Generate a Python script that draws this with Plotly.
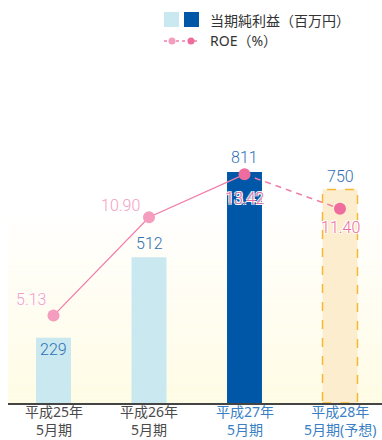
import plotly.graph_objects as go

# Fiscal periods, net income (million yen) and ROE (%)
periods = ["平成25年<br>5月期", "平成26年<br>5月期", "平成27年<br>5月期", "平成28年<br>5月期(予想)"]
net_income = [229, 512, 811, 750]
roe = [5.13, 10.90, 13.42, 11.40]
income_labels = ["229", "512", "811", "750"]
roe_labels = ["5.13", "10.90", "13.42", "11.40"]

W, H = 382, 440
M_L, M_R, M_T, M_B = 8, 0, 60, 37
plot_h = H - M_T - M_B
INCOME_MAX = plot_h / 0.2848
ROE_MAX = plot_h / 17.04

FONT = "Noto Sans, Noto Sans CJK JP, sans-serif"
NUM_FONT = "Roboto, Noto Sans, sans-serif"
CJK_FONT = "Noto Sans CJK JP, sans-serif"
LIGHT_BLUE = "#c9e8f0"
DARK_BLUE = "#0057a8"
FORECAST_FILL = "#fdedcf"
FORECAST_EDGE = "#f6b830"
PINK_LINE = "#f17fab"
PINK_LIGHT = "#f49dbf"
PINK_DARK = "#ee6c9e"
LABEL_BLUE = "#2f6fb5"

x = list(range(len(periods)))
fig = go.Figure()

# soft cream gradient behind the plot area
n_steps = 40
grad_top = 650
for i in range(n_steps):
    t = i / (n_steps - 1)
    r, g, b = 255, int(255 - 3 * (1 - t)), int(253 - 24 * (1 - t))
    fig.add_shape(type="rect", xref="paper", yref="y", layer="below",
                  x0=0, x1=1, y0=grad_top * i / n_steps, y1=grad_top * (i + 1) / n_steps,
                  fillcolor=f"rgb({r},{g},{b})", line_width=0)

fig.add_trace(go.Bar(x=x[:3], y=net_income[:3], marker_color=[LIGHT_BLUE, LIGHT_BLUE, DARK_BLUE],
                     marker_line_width=0, width=0.366, hoverinfo="skip"))
fig.add_trace(go.Bar(x=x[3:], y=net_income[3:], marker_color=FORECAST_FILL,
                     marker_line_width=0, width=0.366, hoverinfo="skip"))

# dashed outline of the forecast bar
bw = 0.366 / 2
fig.add_shape(type="rect", xref="x", yref="y", x0=x[3] - bw, x1=x[3] + bw,
              y0=0, y1=net_income[3], line=dict(color=FORECAST_EDGE, width=1.5, dash="dash"),
              fillcolor="rgba(0,0,0,0)")

# ROE line: actual results solid, forecast dashed
fig.add_trace(go.Scatter(x=x[:3], y=roe[:3], yaxis="y2", mode="lines",
                         line=dict(color=PINK_LINE, width=1.3), hoverinfo="skip"))
fig.add_trace(go.Scatter(x=x[2:], y=roe[2:], yaxis="y2", mode="lines",
                         line=dict(color=PINK_LINE, width=1.5, dash="6px,5px"), hoverinfo="skip"))
fig.add_trace(go.Scatter(x=x, y=roe, yaxis="y2", mode="markers",
                         marker=dict(size=12, color=[PINK_LIGHT, PINK_LIGHT, PINK_DARK, PINK_DARK]),
                         hoverinfo="skip"))

# income value labels
inc_shift = [-12, 14, 15, 13]
for xi, v, lab, s in zip(x, net_income, income_labels, inc_shift):
    fig.add_annotation(x=xi, y=v, yref="y", text=lab, showarrow=False, yshift=s,
                       yanchor="middle",
                       font=dict(family=NUM_FONT, size=16, weight=300, color=LABEL_BLUE))

# ROE value labels
roe_shift = [(-23, 16), (-29, 12), (0, -24), (0, -19)]
roe_colors = [PINK_LIGHT, PINK_LIGHT, PINK_DARK, PINK_DARK]
outline = "1px 1px 0 #fff, -1px -1px 0 #fff, 1px -1px 0 #fff, -1px 1px 0 #fff"
for xi, v, lab, (dx, dy), c in zip(x, roe, roe_labels, roe_shift, roe_colors):
    fig.add_annotation(x=xi, y=v, yref="y2", text=lab, showarrow=False, xshift=dx, yshift=dy,
                       yanchor="middle",
                       font=dict(family=NUM_FONT, size=16, weight=300, color=c, shadow=outline))

# category labels
cat_colors = ["#4a4a4a", "#4a4a4a", "#3a7fc4", "#3a7fc4"]
for xi, lab, c in zip(x, periods, cat_colors):
    fig.add_annotation(x=xi, y=-M_B / plot_h, yref="paper", text=lab, showarrow=False,
                       yanchor="bottom", borderpad=0,
                       font=dict(family=FONT, size=14, color=c))

# custom legend
def px_x(p):
    return (p - M_L) / (W - M_L - M_R)

def px_y(p):
    return (H - M_B - p) / plot_h

fig.add_shape(type="rect", xref="paper", yref="paper", x0=px_x(164), x1=px_x(179),
              y0=px_y(27), y1=px_y(12), fillcolor=LIGHT_BLUE, line_width=0)
fig.add_shape(type="rect", xref="paper", yref="paper", x0=px_x(184), x1=px_x(199),
              y0=px_y(27), y1=px_y(12), fillcolor=DARK_BLUE, line_width=0)
fig.add_annotation(xref="paper", yref="paper", x=px_x(208), y=px_y(20),
                   xanchor="left", yanchor="middle",
                   text="当期純利益（百万円）", showarrow=False,
                   font=dict(family=CJK_FONT, size=14, color="#333333"))
fig.add_shape(type="line", xref="paper", yref="paper", x0=px_x(164), x1=px_x(199),
              y0=px_y(41), y1=px_y(41), line=dict(color=PINK_LINE, width=1.3, dash="3px,3px"))
for cx, col in [(172, PINK_LIGHT), (191, PINK_DARK)]:
    fig.add_shape(type="circle", xref="paper", yref="paper", x0=px_x(cx - 3.5), x1=px_x(cx + 3.5),
                  y0=px_y(44.5), y1=px_y(37.5), fillcolor=col, line_width=0)
fig.add_annotation(xref="paper", yref="paper", x=px_x(208), y=px_y(41),
                   xanchor="left", yanchor="middle",
                   text="ROE（%）", showarrow=False,
                   font=dict(family=FONT, size=14, color="#333333"))

plot_w = W - M_L - M_R
x_left = -45.5 / 95.5
fig.update_layout(
    width=W, height=H, margin=dict(l=M_L, r=M_R, t=M_T, b=M_B),
    paper_bgcolor="white", plot_bgcolor="white", showlegend=False, barmode="overlay",
    xaxis=dict(range=[x_left, x_left + plot_w / 95.5], showticklabels=False, showgrid=False,
               zeroline=False, showline=True, linecolor="#444444", linewidth=2, ticks=""),
    yaxis=dict(range=[0, INCOME_MAX], visible=False, showgrid=False),
    yaxis2=dict(range=[0, ROE_MAX], overlaying="y", visible=False, showgrid=False),
)

fig.write_html("out.html")
